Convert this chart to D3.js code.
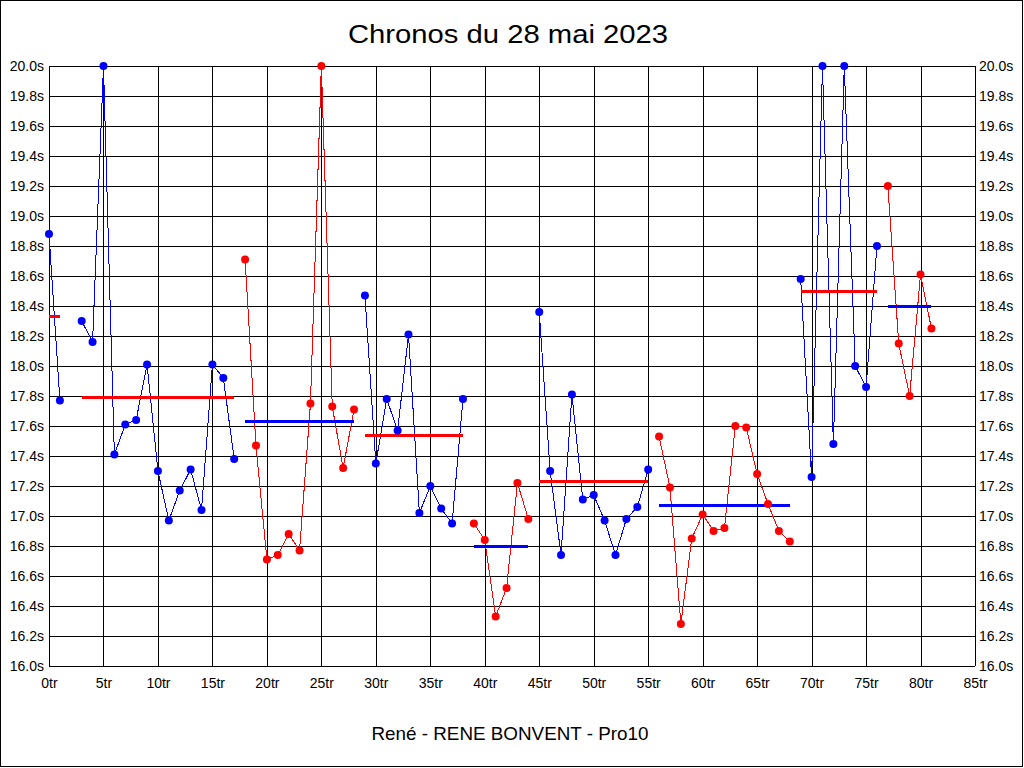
<!DOCTYPE html>
<html>
<head>
<meta charset="utf-8">
<script src="https://cdn.jsdelivr.net/npm/d3@7"></script>
<style>
html,body{margin:0;padding:0;background:#fff;}
svg{display:block;}
text{font-family:"Liberation Sans",Arial,sans-serif;fill:#000;}
</style>
</head>
<body>
<svg id="chart" width="1024" height="768"></svg>
<script>
// ---- data ----
const chartTitle = "Chronos du 28 mai 2023";
const chartSubtitle = "René - RENE BONVENT - Pro10";
// lap times in seconds (index = lap number), null = no time
const lapTimes = [
  18.88, 17.77, null, 18.30, 18.16, 20.00, 17.41, 17.61, 17.64, 18.01,
  17.30, 16.97, 17.17, 17.31, 17.04, 18.01, 17.92, 17.38, 18.71, 17.47,
  16.71, 16.74, 16.88, 16.77, 17.75, 20.00, 17.73, 17.32, 17.71, 18.47,
  17.35, 17.78, 17.57, 18.21, 17.02, 17.20, 17.05, 16.95, 17.78, 16.95,
  16.84, 16.33, 16.52, 17.22, 16.98, 18.36, 17.30, 16.74, 17.81, 17.11,
  17.14, 16.97, 16.74, 16.98, 17.06, 17.31, 17.53, 17.19, 16.28, 16.85,
  17.01, 16.90, 16.92, 17.60, 17.59, 17.28, 17.08, 16.90, 16.83, 18.58,
  17.26, 20.00, 17.48, 20.00, 18.00, 17.86, 18.80, 19.20, 18.15, 17.80,
  18.61, 18.25
];
// stints: first lap, last lap, mean time, stint index
const segStart = [0, 3, 18, 29, 39, 45, 56, 69, 77];
const segEnd   = [1, 17, 28, 38, 44, 55, 68, 76, 81];
const segMean  = [18.33, 17.79, 17.63, 17.54, 16.80, 17.23, 17.07, 18.50, 18.40];
const segStint = [0, 0, 1, 2, 3, 4, 5, 6, 7];
// axis ticks
const yTicks = d3.range(0, 21).map(i => +(16 + i * 0.2).toFixed(1));
const xTicks = d3.range(0, 86, 5);

// ---- drawing ----
const W = 1024, H = 768;
const L = 49, R = 975, T = 66, B = 666;
const svg = d3.select("#chart");
const colA = "#0000ff", colB = "#ff0000";
const stintColor = s => (s % 2 === 0 ? colA : colB);
const meanColor = s => (s % 2 === 0 ? colB : colA);

const x = d3.scaleLinear().domain([0, 85]).range([L, R]);
const y = d3.scaleLinear().domain([16, 20]).range([B, T]);

svg.append("rect").attr("x", 0.5).attr("y", 0.5).attr("width", 1022).attr("height", 766)
  .attr("fill", "#fff").attr("stroke", "#000").attr("shape-rendering", "crispEdges");

// grid
const grid = svg.append("g").attr("shape-rendering", "crispEdges").attr("stroke", "#000").attr("stroke-width", 1);
yTicks.forEach(t => {
  grid.append("line").attr("x1", L).attr("x2", R).attr("y1", Math.round(y(t)) + 0.5).attr("y2", Math.round(y(t)) + 0.5);
});
xTicks.forEach(t => {
  grid.append("line").attr("y1", T).attr("y2", B).attr("x1", Math.round(x(t)) + 0.5).attr("x2", Math.round(x(t)) + 0.5);
});

// axes labels (left and right) using d3 axes
const fmtY = d => d3.format(".1f")(d) + "s";
const leftAxis = d3.axisLeft(y).tickValues(yTicks).tickFormat(fmtY).tickSize(0).tickPadding(5);
const rightAxis = d3.axisRight(y).tickValues(yTicks).tickFormat(fmtY).tickSize(0).tickPadding(4);
const bottomAxis = d3.axisBottom(x).tickValues(xTicks).tickFormat(d => d + "tr").tickSize(0).tickPadding(12);

function styleAxis(g) {
  g.select(".domain").remove();
  g.selectAll("text").attr("font-family", "'Liberation Sans',Arial,sans-serif").attr("font-size", 14).attr("fill", "#000");
}
svg.append("g").attr("transform", `translate(${L},0.5)`).call(leftAxis).call(styleAxis);
svg.append("g").attr("transform", `translate(${R},0.5)`).call(rightAxis).call(styleAxis);
svg.append("g").attr("transform", `translate(0,${B})`).call(bottomAxis).call(styleAxis);

// series lines
const line = d3.line().x(d => x(d.lap)).y(d => y(d.t));
const segData = segStart.map((s, i) => {
  const pts = [];
  for (let lap = s; lap <= segEnd[i]; lap++) {
    if (lapTimes[lap] != null) pts.push({ lap, t: lapTimes[lap] });
  }
  return { pts, stint: segStint[i], start: s, end: segEnd[i], mean: segMean[i] };
});

svg.append("g").selectAll("path").data(segData).join("path")
  .attr("d", d => line(d.pts))
  .attr("fill", "none")
  .attr("stroke", d => stintColor(d.stint))
  .attr("stroke-width", 1)
  .attr("shape-rendering", "crispEdges");

// mean lines
svg.append("g").selectAll("line").data(segData).join("line")
  .attr("x1", d => x(d.start)).attr("x2", d => x(d.end))
  .attr("y1", d => y(d.mean)).attr("y2", d => y(d.mean))
  .attr("stroke", d => meanColor(d.stint))
  .attr("stroke-width", 3)
  .attr("shape-rendering", "crispEdges");

// markers
segData.forEach(seg => {
  svg.append("g").selectAll("circle").data(seg.pts).join("circle")
    .attr("cx", d => x(d.lap)).attr("cy", d => y(d.t)).attr("r", 4)
    .attr("fill", stintColor(seg.stint));
});

// titles
svg.append("text").attr("x", 508).attr("y", 43).attr("text-anchor", "middle")
  .attr("font-size", 26).attr("textLength", 320).attr("lengthAdjust", "spacingAndGlyphs").text(chartTitle);
svg.append("text").attr("x", 510).attr("y", 740).attr("text-anchor", "middle")
  .attr("font-size", 19).attr("textLength", 277).attr("lengthAdjust", "spacingAndGlyphs").text(chartSubtitle);
</script>
</body>
</html>
